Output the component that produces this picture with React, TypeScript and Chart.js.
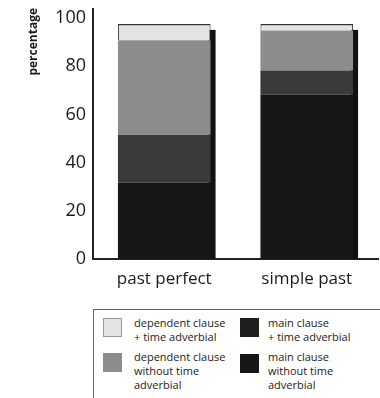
import React, { useEffect, useRef } from "react";
import { Chart, registerables } from "chart.js";

Chart.register(...registerables);

const CATEGORIES = ["past perfect", "simple past"];
const Y_TICKS = [0, 20, 40, 60, 80, 100];
const Y_TITLE = "percentage";

// stacked bottom -> top
const MAIN_NO_ADV = [31.7, 68.2];
const MAIN_ADV = [19.9, 10.1];
const DEP_NO_ADV = [39.2, 16.6];
const DEP_ADV = [6.8, 2.7];

const NAME_MAIN_NO_ADV = ["main clause", "without time", "adverbial"];
const NAME_MAIN_ADV = ["main clause", "+ time adverbial"];
const NAME_DEP_NO_ADV = ["dependent clause", "without time", "adverbial"];
const NAME_DEP_ADV = ["dependent clause", "+ time adverbial"];

const C_MAIN_NO_ADV = "#161616";
const C_MAIN_ADV = "#3a3a3a";
const C_DEP_NO_ADV = "#8c8c8c";
const C_DEP_ADV = "#e4e4e4";

const FONT = "'Open Sans', 'DejaVu Sans', sans-serif";

const shadowPlugin = {
  id: "barShadow",
  beforeDatasetsDraw(chart: any) {
    const n = chart.data.datasets.length;
    const topMeta = chart.getDatasetMeta(n - 1);
    const botMeta = chart.getDatasetMeta(0);
    const ctx = chart.ctx;
    ctx.save();
    ctx.fillStyle = "#111";
    topMeta.data.forEach((el: any, i: number) => {
      const b = botMeta.data[i];
      const right = el.x + el.width / 2;
      const top = el.y + 6;
      const base = b.base;
      ctx.fillRect(right - 2, top, 7, base - top);
    });
    ctx.restore();
  },
};

const yTitlePlugin = {
  id: "yTitle",
  afterDraw(chart: any) {
    const ctx = chart.ctx;
    const top = chart.chartArea.top;
    ctx.save();
    ctx.translate(34, top - 0.5);
    ctx.rotate(-Math.PI / 2);
    ctx.font = `bold 12px ${FONT}`;
    ctx.fillStyle = "#1a1a1a";
    ctx.textAlign = "right";
    ctx.textBaseline = "middle";
    ctx.fillText(Y_TITLE, 0, 0);
    ctx.restore();
  },
};

export default function App() {
  const ref = useRef<HTMLCanvasElement>(null);

  useEffect(() => {
    if (!ref.current) return;
    const chart = new Chart(ref.current, {
      type: "bar",
      data: {
        labels: CATEGORIES,
        datasets: [
          { label: NAME_MAIN_NO_ADV.join(" "), data: MAIN_NO_ADV, backgroundColor: C_MAIN_NO_ADV, borderWidth: 0 },
          { label: NAME_MAIN_ADV.join(" "), data: MAIN_ADV, backgroundColor: C_MAIN_ADV, borderWidth: 0 },
          { label: NAME_DEP_NO_ADV.join(" "), data: DEP_NO_ADV, backgroundColor: C_DEP_NO_ADV, borderWidth: 0 },
          {
            label: NAME_DEP_ADV.join(" "),
            data: DEP_ADV,
            backgroundColor: C_DEP_ADV,
            borderColor: "#333",
            borderWidth: { top: 1.5, left: 1, right: 1, bottom: 0 } as any,
            borderSkipped: false as any,
          },
        ],
      },
      options: {
        animation: false,
        responsive: true,
        maintainAspectRatio: false,
        layout: { padding: { top: 8.5, right: 2, left: 0, bottom: 0 } },
        datasets: { bar: { barPercentage: 1, categoryPercentage: 0.65 } } as any,
        plugins: {
          legend: { display: false },
          tooltip: { enabled: false },
        },
        scales: {
          x: {
            stacked: true,
            grid: { display: false, drawTicks: false },
            border: { display: true, color: "#222", width: 2 },
            ticks: { color: "#1a1a1a", font: { family: FONT, size: 17 }, padding: 10 },
            afterFit: (s: any) => {
              s.height = 41;
              s.paddingLeft = 0;
              s.paddingRight = 0;
            },
          },
          y: {
            stacked: true,
            min: 0,
            max: 104,
            grid: { display: false, drawTicks: false },
            border: { display: true, color: "#222", width: 2 },
            afterBuildTicks: (s: any) => {
              s.ticks = Y_TICKS.map((v) => ({ value: v }));
            },
            ticks: { color: "#1a1a1a", font: { family: FONT, size: 18 }, padding: 7 },
            afterFit: (s: any) => {
              s.width = 93;
              s.paddingTop = 0;
              s.paddingBottom = 0;
            },
          },
        },
      },
      plugins: [shadowPlugin, yTitlePlugin],
    });
    return () => chart.destroy();
  }, []);

  const textStyle = (left: number, top: number): React.CSSProperties => ({
    position: "absolute",
    left,
    top,
    fontFamily: FONT,
    fontSize: 11,
    lineHeight: "14.3px",
    color: "#222",
    whiteSpace: "nowrap",
  });
  const sw = (left: number, top: number, w: number, h: number, bg: string, border?: string): React.CSSProperties => ({
    position: "absolute",
    left,
    top,
    width: w,
    height: h,
    background: bg,
    boxSizing: "border-box",
    border: border ? `1px solid ${border}` : "none",
  });

  const items = [
    { name: NAME_DEP_ADV, color: C_DEP_ADV, border: "#999", sx: 103, sy: 318, tx: 134, ty: 316 },
    { name: NAME_MAIN_ADV, color: "#1e1e1e", border: undefined, sx: 240, sy: 318, tx: 268, ty: 316 },
    { name: NAME_DEP_NO_ADV, color: C_DEP_NO_ADV, border: undefined, sx: 103, sy: 353, tx: 134, ty: 349.5 },
    { name: NAME_MAIN_NO_ADV, color: C_MAIN_NO_ADV, border: undefined, sx: 240, sy: 354, tx: 268, ty: 349.5 },
  ];

  return (
    <div style={{ position: "absolute", left: 0, top: 0, width: 380, height: 398, overflow: "hidden", background: "#fff" }}>
      <div style={{ position: "absolute", left: 0, top: 0, width: 380, height: 300 }}>
        <canvas ref={ref} />
      </div>
      <div
        style={{
          position: "absolute",
          left: 93,
          top: 308.5,
          width: 320,
          height: 120,
          borderTop: "1.5px solid #666",
          borderLeft: "1.5px solid #666",
          boxSizing: "border-box",
        }}
      />
      {items.map((it, i) => (
        <React.Fragment key={i}>
          <div style={sw(it.sx, it.sy, 19, 19, it.color, it.border)} />
          <div style={textStyle(it.tx, it.ty)}>
            {it.name.map((l, j) => (
              <div key={j}>{l}</div>
            ))}
          </div>
        </React.Fragment>
      ))}
    </div>
  );
}
